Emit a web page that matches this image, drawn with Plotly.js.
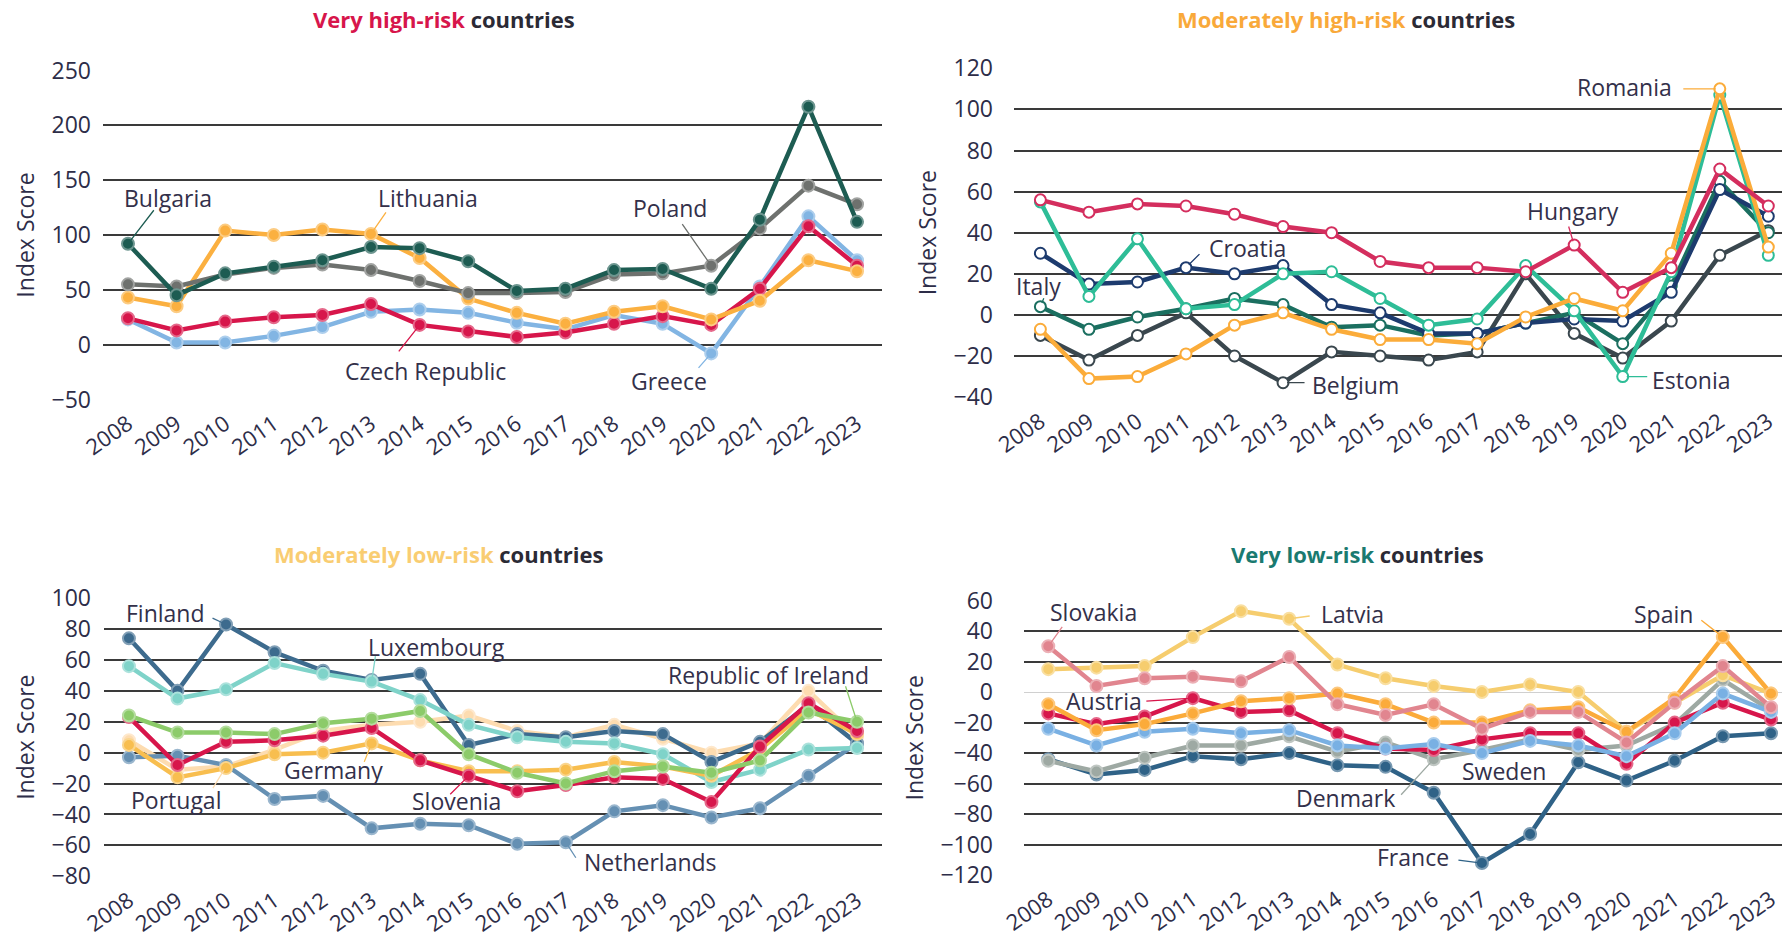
<!DOCTYPE html>
<html><head><meta charset="utf-8">
<script src="https://cdn.plot.ly/plotly-3.0.1.min.js"></script>
<style>html,body{margin:0;padding:0;background:#fff}#chart{width:1782px;height:938px}</style>
</head><body><div id="chart"></div>
<script>
const years = [2008,2009,2010,2011,2012,2013,2014,2015,2016,2017,2018,2019,2020,2021,2022,2023];
const yearLabels = years.map(String);

// Very high-risk countries
const bulgaria  = [92, 45, 65, 71, 77, 89, 88, 76, 49, 51, 68, 69, 51, 114, 217, 112];
const poland    = [55, 53, 64, 70, 73, 68, 58, 47, 47, 48, 64, 65, 72, 106, 145, 128];
const lithuania = [43, 35, 104, 100, 105, 101, 79, 42, 29, 19, 30, 35, 23, 40, 77, 67];
const czech     = [24, 13, 21, 25, 27, 37, 18, 12, 7, 11, 19, 26, 18, 51, 108, 72];
const greece    = [23, 2, 2, 8, 16, 30, 32, 29, 20, 14, 27, 19, -8, 53, 117, 77];

// Moderately high-risk countries
const hungary = [56, 50, 54, 53, 49, 43, 40, 26, 23, 23, 21, 34, 11, 23, 71, 53];
const croatia = [30, 15, 16, 23, 20, 24, 5, 1, -9, -9, -4, -2, -3, 11, 61, 48];
const estonia = [55, 9, 37, 3, 5, 20, 21, 8, -5, -2, 24, 2, -30, 21, 107, 29];
const italy   = [4, -7, -1, 3, 8, 5, -6, -5, -10, -9, -4, 1, -14, 14, 65, 40];
const belgium = [-10, -22, -10, 1, -20, -33, -18, -20, -22, -18, 20, -9, -21, -3, 29, 41];
const romania = [-7, -31, -30, -19, -5, 1, -7, -12, -12, -14, -1, 8, 2, 30, 110, 33];

// Moderately low-risk countries
const finland     = [74, 40, 83, 65, 53, 47, 51, 5, 12, 10, 14, 12, -6, 7, 31, 6];
const luxembourg  = [56, 35, 41, 58, 51, 46, 34, 18, 10, 7, 6, -1, -19, -11, 2, 3];
const ireland     = [24, 13, 13, 12, 19, 22, 27, -1, -13, -20, -12, -9, -13, -5, 26, 20];
const slovenia    = [23, -8, 7, 8, 11, 16, -5, -15, -25, -21, -16, -17, -32, 4, 32, 14];
const germany     = [5, -16, -10, -1, 0, 6, -5, -12, -12, -11, -6, -9, -15, 2, 28, 12];
const portugal    = [8, -11, -9, 2, 14, 18, 20, 24, 14, 10, 18, 9, 0, 6, 40, 10];
const netherlands = [-3, -2, -8, -30, -28, -49, -46, -47, -59, -58, -38, -34, -42, -36, -15, 6];

// Very low-risk countries
const latvia   = [15, 16, 17, 36, 53, 48, 18, 9, 4, 0, 5, 0, -26, -7, 11, -1];
const slovakia = [30, 4, 9, 10, 7, 23, -8, -15, -8, -24, -13, -13, -33, -7, 17, -10];
const austria  = [-14, -21, -16, -4, -13, -12, -27, -37, -38, -31, -27, -27, -47, -20, -7, -18];
const spain    = [-8, -25, -21, -14, -6, -4, -1, -8, -20, -20, -12, -10, -26, -4, 36, -1];
const sweden   = [-24, -35, -26, -24, -27, -25, -35, -37, -34, -40, -32, -35, -42, -27, -1, -13];
const denmark  = [-45, -52, -43, -35, -35, -29, -39, -33, -44, -38, -31, -38, -35, -21, 8, -12];
const france   = [-44, -54, -51, -42, -44, -40, -48, -49, -66, -112, -93, -46, -58, -45, -29, -27];

const ticksTL = [-50, 0, 50, 100, 150, 200, 250];
const ticksTR = [-40, -20, 0, 20, 40, 60, 80, 100, 120];
const ticksBL = [-80, -60, -40, -20, 0, 20, 40, 60, 80, 100];
const ticksBR = [-120, -100, -80, -60, -40, -20, 0, 20, 40, 60];

const FONT = '"Open Sans", Lato, sans-serif';
const TEXT = '#33304a';

function lighten(hex, f) {
  const n = parseInt(hex.slice(1), 16);
  const r = (n >> 16) & 255, g = (n >> 8) & 255, b = n & 255;
  const m = c => Math.round(c + (255 - c) * f);
  return 'rgb(' + m(r) + ',' + m(g) + ',' + m(b) + ')';
}
function tr(y, color, xa, ya, open) {
  return {
    type: 'scatter', mode: 'lines+markers', x: years, y: y, xaxis: xa, yaxis: ya,
    line: {color: color, width: 4.5},
    marker: {size: open ? 11 : 12, color: open ? '#ffffff' : color,
             line: {color: open ? color : lighten(color, 0.35), width: 2}},
    hoverinfo: 'skip', showlegend: false
  };
}

const C = {
  bulgaria: '#1d5c52', poland: '#6e716e', lithuania: '#fbb040', czech: '#d7164b', greece: '#82b5e3',
  hungary: '#d42e5e', croatia: '#1d3b6e', estonia: '#2ebd97', italy: '#1b6f60', belgium: '#3a474e', romania: '#fbac3a',
  finland: '#3d6b8e', luxembourg: '#7fd3c9', ireland: '#8ccb6a', slovenia: '#d7164b', germany: '#f8be4f', portugal: '#fddcb0', netherlands: '#6590b3',
  latvia: '#f6cd6e', slovakia: '#e1858f', austria: '#d7164b', spain: '#fbab3a', sweden: '#79b0e3', denmark: '#9ea9a3', france: '#2f6287'
};

const data = [
  tr(greece, C.greece, 'x', 'y'), tr(czech, C.czech, 'x', 'y'), tr(lithuania, C.lithuania, 'x', 'y'),
  tr(poland, C.poland, 'x', 'y'), tr(bulgaria, C.bulgaria, 'x', 'y'),
  tr(belgium, C.belgium, 'x2', 'y2', true), tr(italy, C.italy, 'x2', 'y2', true), tr(croatia, C.croatia, 'x2', 'y2', true),
  tr(estonia, C.estonia, 'x2', 'y2', true), tr(romania, C.romania, 'x2', 'y2', true), tr(hungary, C.hungary, 'x2', 'y2', true),
  tr(portugal, C.portugal, 'x3', 'y3'), tr(netherlands, C.netherlands, 'x3', 'y3'), tr(finland, C.finland, 'x3', 'y3'),
  tr(luxembourg, C.luxembourg, 'x3', 'y3'), tr(germany, C.germany, 'x3', 'y3'), tr(slovenia, C.slovenia, 'x3', 'y3'),
  tr(ireland, C.ireland, 'x3', 'y3'),
  tr(france, C.france, 'x4', 'y4'), tr(denmark, C.denmark, 'x4', 'y4'), tr(austria, C.austria, 'x4', 'y4'),
  tr(sweden, C.sweden, 'x4', 'y4'), tr(latvia, C.latvia, 'x4', 'y4'), tr(spain, C.spain, 'x4', 'y4'),
  tr(slovakia, C.slovakia, 'x4', 'y4')
];

const ann = [];
function lab(text, xa, ya, series, i, dx, dy, tx, ty, color) {
  ann.push({xref: xa, yref: ya, x: years[i], y: series[i], text: text, showarrow: false,
            xshift: dx, yshift: dy, font: {family: FONT, size: 23, color: TEXT}});
  if (tx !== null) {
    ann.push({xref: xa, yref: ya, x: years[i], y: series[i], text: '', showarrow: true,
              ax: tx, ay: ty, arrowhead: 0, arrowwidth: 1.3, arrowcolor: color, standoff: 4});
  }
}
// TL
lab('Bulgaria', 'x', 'y', bulgaria, 0, 40, 46, 27, -35, C.bulgaria);
lab('Lithuania', 'x', 'y', lithuania, 5, 57, 36, 16, -23, C.lithuania);
lab('Poland', 'x', 'y', poland, 12, -41, 58, -30, -43, C.poland);
lab('Czech Republic', 'x', 'y', czech, 6, 6, -46, -22, 28, C.czech);
lab('Greece', 'x', 'y', greece, 12, -42, -28, -14, 16, C.greece);
// TR
lab('Romania', 'x2', 'y2', romania, 14, -95, 2, -38, 0, C.romania);
lab('Hungary', 'x2', 'y2', hungary, 11, -1, 34, -6, -20, C.hungary);
lab('Croatia', 'x2', 'y2', croatia, 3, 62, 20, 15, -15, C.croatia);
lab('Italy', 'x2', 'y2', italy, 0, -2, 21, 4, -10, C.italy);
lab('Belgium', 'x2', 'y2', belgium, 5, 72, -2, 23, 0, C.belgium);
lab('Estonia', 'x2', 'y2', estonia, 12, 68, -3, 26, 0, C.estonia);
// BL
lab('Finland', 'x3', 'y3', finland, 2, -61, 11, -15, -7, C.finland);
lab('Luxembourg', 'x3', 'y3', luxembourg, 5, 65, 35, 4, -27, C.luxembourg);
lab('Republic of Ireland', 'x3', 'y3', ireland, 15, -89, 47, -12, -37, C.ireland);
lab('Germany', 'x3', 'y3', germany, 5, -38, -27, -8, 20, C.germany);
lab('Portugal', 'x3', 'y3', portugal, 2, -50, -33, -14, 23, C.portugal);
lab('Slovenia', 'x3', 'y3', slovenia, 7, -12, -25, -20, 20, C.slovenia);
lab('Netherlands', 'x3', 'y3', netherlands, 9, 85, -20, 11, 17, C.netherlands);
// BR
lab('Slovakia', 'x4', 'y4', slovakia, 0, 45, 34, 15, -21, C.slovakia);
lab('Latvia', 'x4', 'y4', latvia, 5, 63, 5, 22, -3, C.latvia);
lab('Austria', 'x4', 'y4', austria, 3, -89, -3, -48, 3, C.austria);
lab('Spain', 'x4', 'y4', spain, 14, -59, 23, -23, -18, C.spain);
lab('Sweden', 'x4', 'y4', sweden, 9, 22, -18, null, null, C.sweden);
lab('Denmark', 'x4', 'y4', denmark, 8, -88, -39, -34, 37, C.denmark);
lab('France', 'x4', 'y4', france, 9, -69, 6, -25, -3, C.france);

function title(x, y, colored, color) {
  ann.push({xref: 'paper', yref: 'paper', x: x, y: y, xanchor: 'center', yanchor: 'middle', showarrow: false,
            text: '<b><span style="color:' + color + '">' + colored + '</span> countries</b>',
            font: {family: FONT, size: 22, color: '#2b2a35'}});
}
title(444/1782, 1 - 19/938, 'Very high-risk', '#d7164b');
title(1346/1782, 1 - 19/938, 'Moderately high-risk', '#f9a93a');
title(438/1782, 1 - 554/938, 'Moderately low-risk', '#f9cd72');
title(1357/1782, 1 - 554/938, 'Very low-risk', '#1a7a70');

function xax(domain, range, anchor) {
  return {domain: domain, range: range, anchor: anchor, tickmode: 'array', tickvals: years, ticktext: yearLabels,
          tickangle: -35, tickfont: {family: FONT, size: 22, color: '#2d2d48'}, showgrid: false, zeroline: false,
          showline: false, ticks: '', ticklabelstandoff: 6, fixedrange: true};
}
function yax(domain, range, anchor, vals, standoff, zeroLight) {
  return {domain: domain, range: range, anchor: anchor, tickmode: 'array', tickvals: vals,
          tickfont: {family: FONT, size: 23, color: '#2d2d48'}, showgrid: true, gridcolor: '#3a3a3a', gridwidth: 2,
          zeroline: !!zeroLight, zerolinecolor: '#d0d0d0', zerolinewidth: 1,
          showline: false, ticks: '', ticklabelstandoff: standoff, fixedrange: true,
          title: {text: 'Index Score', font: {family: FONT, size: 23, color: '#2d2d48'}, standoff: 10}};
}

const layout = {
  width: 1782, height: 938, margin: {l: 0, r: 0, t: 0, b: 0},
  paper_bgcolor: '#ffffff', plot_bgcolor: '#ffffff', showlegend: false,
  xaxis: xax([103/1782, 882/1782], [2007.486, 2023.514], 'y'),
  yaxis: yax([1 - 400/938, 1 - 70/938], [-50.5, 250.5], 'x', ticksTL, 11),
  xaxis2: xax([1014/1782, 1], [2007.456, 2023.282], 'y2'),
  yaxis2: yax([1 - 397.7/938, 1 - 67.7/938], [-40.3, 120.3], 'x2', ticksTR, 20),
  xaxis3: xax([104/1782, 882/1782], [2007.486, 2023.514], 'y3'),
  yaxis3: yax([1 - 876.7/938, 1 - 597.7/938], [-80.3, 100.3], 'x3', ticksBL, 12),
  xaxis4: xax([1024/1782, 1], [2007.496, 2023.228], 'y4'),
  yaxis4: yax([1 - 875.7/938, 1 - 600/938], [-120.3, 60.3], 'x4', ticksBR, 30, true),
  annotations: ann
};

Plotly.newPlot('chart', data, layout, {staticPlot: true, displayModeBar: false});
</script>
</body></html>
